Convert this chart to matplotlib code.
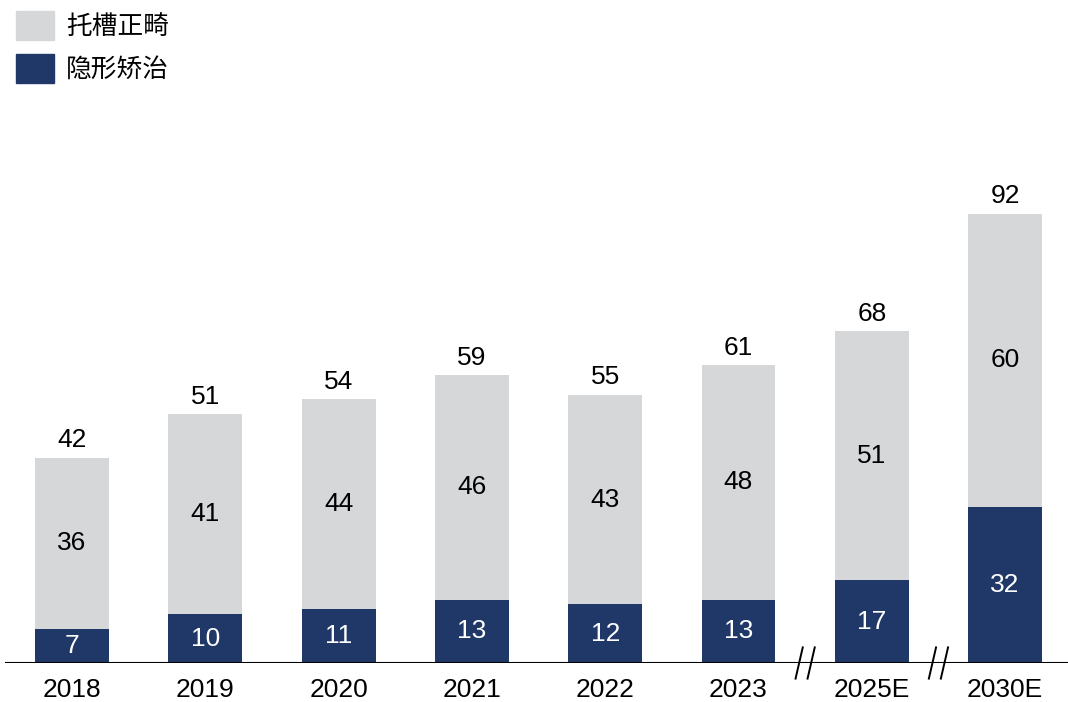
import matplotlib
matplotlib.use("Agg")
import matplotlib.pyplot as plt
import numpy as np
from matplotlib.patches import Rectangle

plt.rcParams["font.family"] = ["Liberation Sans", "Noto Sans CJK SC", "DejaVu Sans"]

# Datos
anios = ["2018", "2019", "2020", "2021", "2022", "2023", "2025E", "2030E"]
brackets = [36, 41, 44, 46, 43, 48, 51, 60]        # 托槽正畸
alineadores = [7, 10, 11, 13, 12, 13, 17, 32]      # 隐形矫治
totales = [42, 51, 54, 59, 55, 61, 68, 92]
serie_nombres = ["托槽正畸", "隐形矫治"]

GRIS = "#D6D7D9"
AZUL = "#1F3868"

W, H = 1068, 702
fig = plt.figure(figsize=(W / 100, H / 100), dpi=100)
ax = fig.add_axes([0, 39 / H, 1, 563 / H])

x = np.arange(len(anios))
ancho = 0.555
alin = np.array(alineadores)
tot = np.array(totales)

ax.bar(x, alin, ancho, color=AZUL, zorder=2)
ax.bar(x, tot - alin, ancho, bottom=alin, color=GRIS, zorder=2)

for i in range(len(anios)):
    ax.text(x[i], alin[i] / 2, str(alineadores[i]), ha="center", va="center",
            color="white", fontsize=19)
    ax.text(x[i], (alin[i] + tot[i]) / 2, str(brackets[i]), ha="center", va="center",
            color="black", fontsize=19)
    ax.annotate(str(totales[i]), (x[i], tot[i]), xytext=(0, 4), textcoords="offset points",
                ha="center", va="bottom", fontsize=19, color="black")

ax.set_xlim(-72 / 133.3, (W - 72) / 133.3)
ax.set_ylim(0, 563 / 4.88)
for s in ax.spines.values():
    s.set_visible(False)
ax.set_yticks([])
ax.set_xticks(x)
ax.set_xticklabels(anios, fontsize=19)
ax.tick_params(axis="x", length=0, pad=11)
ax.axhline(0, xmin=6 / W, xmax=1, color="black", lw=1.5, zorder=3)

# marcas de corte del eje
for xb in [5.5, 6.5]:
    for dx in [-0.045, 0.045]:
        ax.plot([xb + dx - 0.027, xb + dx + 0.027], [-3.2, 3.2], color="black", lw=1.4,
                clip_on=False, zorder=4)

# leyenda manual
for j, (nombre, col) in enumerate(zip(serie_nombres, [GRIS, AZUL])):
    y0 = 11 + j * 43
    fig.add_artist(Rectangle((16 / W, 1 - (y0 + 29) / H), 38 / W, 29 / H,
                             transform=fig.transFigure, color=col))
    fig.text(66 / W, 1 - (y0 + 16) / H, nombre, fontsize=18.5, va="center", ha="left",
             family=["Noto Sans CJK SC", "DejaVu Sans"])

fig.savefig("out.png", dpi=100)
